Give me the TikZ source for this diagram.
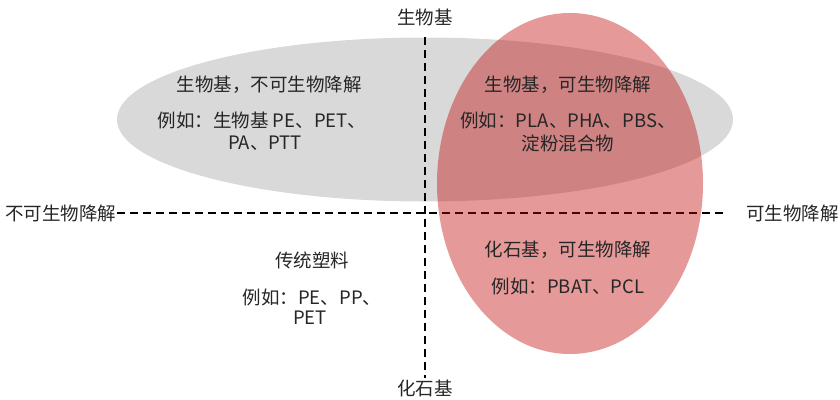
\documentclass[tikz,border=0pt]{standalone}
\usepackage{fontspec}
\setmainfont{Noto Sans CJK SC}
\begin{document}
\begin{tikzpicture}[x=1pt,y=-1pt,
  axisline/.style={line width=1.8pt,dash pattern=on 8pt off 5pt,black},
  lbl/.style={font=\fontsize{18.5}{22}\selectfont,text=black!85,inner sep=0pt,align=center}]
\useasboundingbox (0,0) rectangle (840,399);
\definecolor{bubblegray}{RGB}{217,217,217}
\definecolor{bubblered}{RGB}{190,0,0}
\fill[bubblegray] (425,119.5) ellipse [x radius=308, y radius=82];
\node[lbl] (top) at (425,17) {生物基};
\node[lbl] (bot) at (425,388) {化石基};
\node[lbl,anchor=west] (left) at (5,213) {不可生物降解};
\node[lbl,anchor=east] (right) at (839,213) {可生物降解};
\coordinate (vt) at (425,37);
\coordinate (vb) at (425,378);
\coordinate (hl) at (117,213);
\coordinate (hr) at (727,213);
\draw[axisline] (vt) -- (vb);
\draw[axisline] (hl) -- (hr);
\fill[bubblered,opacity=0.4] (570,183.5) ellipse [x radius=133, y radius=170.5];
\node[lbl] (q1a) at (269,85) {生物基，不可生物降解};
\node[lbl] (q1b) at (262,120) {例如：生物基 PE、PET、};
\node[lbl] (q1c) at (265,143) {PA、PTT};
\node[lbl] (q2a) at (568,85) {生物基，可生物降解};
\node[lbl] (q2b) at (568,120) {例如：PLA、PHA、PBS、};
\node[lbl] (q2c) at (568,143) {淀粉混合物};
\node[lbl] (q3a) at (568,250) {化石基，可生物降解};
\node[lbl] (q3b) at (568,286) {例如：PBAT、PCL};
\node[lbl] (q4a) at (312,260) {传统塑料};
\node[lbl] (q4b) at (312,297) {例如：PE、PP、};
\node[lbl] (q4c) at (310,318) {PET};
\end{tikzpicture}
\end{document}
